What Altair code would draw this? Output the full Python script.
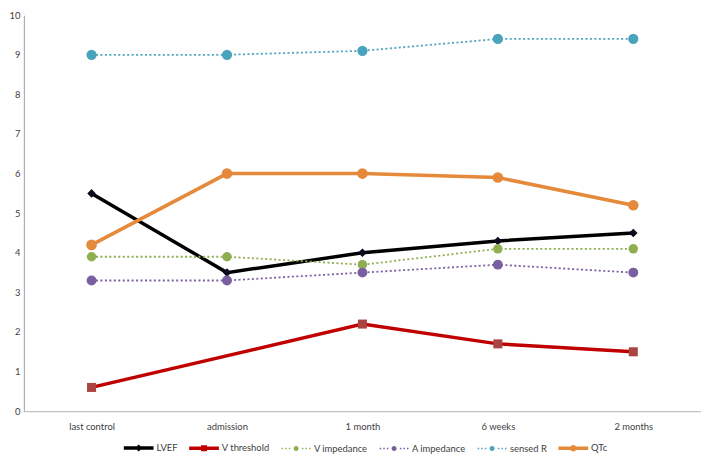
import altair as alt
import pandas as pd

periods = ["last control", "admission", "1 month", "6 weeks", "2 months"]
series = ["LVEF", "V threshold", "V impedance", "A impedance", "sensed R", "QTc"]

lvef = [5.5, 3.5, 4.0, 4.3, 4.5]
v_threshold = [0.6, None, 2.2, 1.7, 1.5]
v_impedance = [3.9, 3.9, 3.7, 4.1, 4.1]
a_impedance = [3.3, 3.3, 3.5, 3.7, 3.5]
sensed_r = [9.0, 9.0, 9.1, 9.4, 9.4]
qtc = [4.2, 6.0, 6.0, 5.9, 5.2]

line_colors = ["#000000", "#c00000", "#8fae4f", "#7a5fa0", "#4aa3bd", "#e5893a"]
marker_colors = ["#0b0b1e", "#a94442", "#8fae4f", "#7a5fa0", "#4aa3bd", "#e5893a"]
marker_sizes = [75, 115, 45, 45, 45, 125]
solid = ["LVEF", "V threshold", "QTc"]
dotted = ["V impedance", "A impedance", "sensed R"]
circles = ["V impedance", "A impedance", "sensed R", "QTc"]

rows = []
for name, vals in zip(series, [lvef, v_threshold, v_impedance, a_impedance, sensed_r, qtc]):
    for p, v in zip(periods, vals):
        if v is not None:
            rows.append({"period": p, "series": name, "value": v})
df = pd.DataFrame(rows)

# legend symbols: line + marker drawn as a single custom path
def solid_sym(marker):
    return ("M-1,-0.12 L1,-0.12 L1,0.12 L-1,0.12 Z " + marker)

def dotted_sym(marker):
    d = ""
    for x in [-0.92, -0.68, -0.44, 0.44, 0.68, 0.92]:
        d += f"M{x-0.05},-0.05 L{x+0.05},-0.05 L{x+0.05},0.05 L{x-0.05},0.05 Z "
    return d + marker

diamond = "M0,-0.24 L0.24,0 L0,0.24 L-0.24,0 Z"
square = "M-0.2,-0.2 L0.2,-0.2 L0.2,0.2 L-0.2,0.2 Z"
circle = "M-0.17,0 A0.17,0.17 0 1,1 0.17,0 A0.17,0.17 0 1,1 -0.17,0 Z"
big_circle = "M-0.22,0 A0.22,0.22 0 1,1 0.22,0 A0.22,0.22 0 1,1 -0.22,0 Z"
legend_paths = [solid_sym(diamond), solid_sym(square), dotted_sym(circle),
                dotted_sym(circle), dotted_sym(circle), solid_sym(big_circle)]

x_enc = alt.X("period:N", sort=periods, title=None,
              scale=alt.Scale(paddingOuter=0.5),
              axis=alt.Axis(labelAngle=0, ticks=False, domainColor="#b0b0b0",
                            labelPadding=10, labelFont="Lato", labelFontSize=9.5,
                            labelColor="#404040"))
y_enc = alt.Y("value:Q", title=None,
              scale=alt.Scale(domain=[0, 10], nice=False),
              axis=alt.Axis(values=list(range(0, 11)), ticks=False, grid=False,
                            domainColor="#a0a0a0", labelPadding=4,
                            labelFont="Lato", labelFontSize=9.5, labelColor="#404040"))

stroke_scale = alt.Scale(domain=series, range=line_colors)
fill_scale = alt.Scale(domain=series, range=marker_colors)
size_scale = alt.Scale(domain=series, range=marker_sizes)

solid_lines = alt.Chart(df).transform_filter(
    alt.FieldOneOfPredicate(field="series", oneOf=solid)
).mark_line(strokeWidth=3.5).encode(
    x=x_enc, y=y_enc,
    stroke=alt.Stroke("series:N", scale=stroke_scale, legend=None),
    detail="series:N",
)

dotted_lines = alt.Chart(df).transform_filter(
    alt.FieldOneOfPredicate(field="series", oneOf=dotted)
).mark_line(strokeWidth=1.8, strokeDash=[2, 2.5]).encode(
    x=x_enc, y=y_enc,
    stroke=alt.Stroke("series:N", scale=stroke_scale, legend=None),
    detail="series:N",
)

def marker_layer(names, shape):
    return alt.Chart(df).transform_filter(
        alt.FieldOneOfPredicate(field="series", oneOf=names)
    ).mark_point(filled=True, opacity=1, shape=shape).encode(
        x=x_enc, y=y_enc,
        fill=alt.Fill("series:N", scale=fill_scale, legend=None),
        size=alt.Size("series:O", scale=size_scale, legend=None),
    )

diamonds = marker_layer(["LVEF"], "diamond")
squares = marker_layer(["V threshold"], "square")
dots = marker_layer(circles, "circle")

leg = alt.Legend(title=None, orient="none", direction="horizontal",
                 legendX=100, legendY=421,
                 symbolSize=900, symbolOpacity=1,
                 labelFont="Lato", labelFontSize=9.5,
                 labelColor="#404040", columnPadding=8,
                 labelOffset=2, padding=0)

legend_layer = alt.Chart(df).mark_point(filled=True, opacity=0).encode(
    x=x_enc, y=y_enc,
    color=alt.Color("series:N", scale=alt.Scale(domain=series, range=line_colors), legend=leg),
    shape=alt.Shape("series:N", scale=alt.Scale(domain=series, range=legend_paths), legend=leg),
)

chart = alt.layer(legend_layer, solid_lines, dotted_lines, diamonds, squares, dots).resolve_scale(
    color="independent", shape="independent"
).properties(
    width=684, height=400,
    padding={"left": 0, "top": 0, "right": 0, "bottom": 0},
).configure_view(stroke=None)

chart.save("out.html", embed_options={"renderer": "svg", "actions": False})
